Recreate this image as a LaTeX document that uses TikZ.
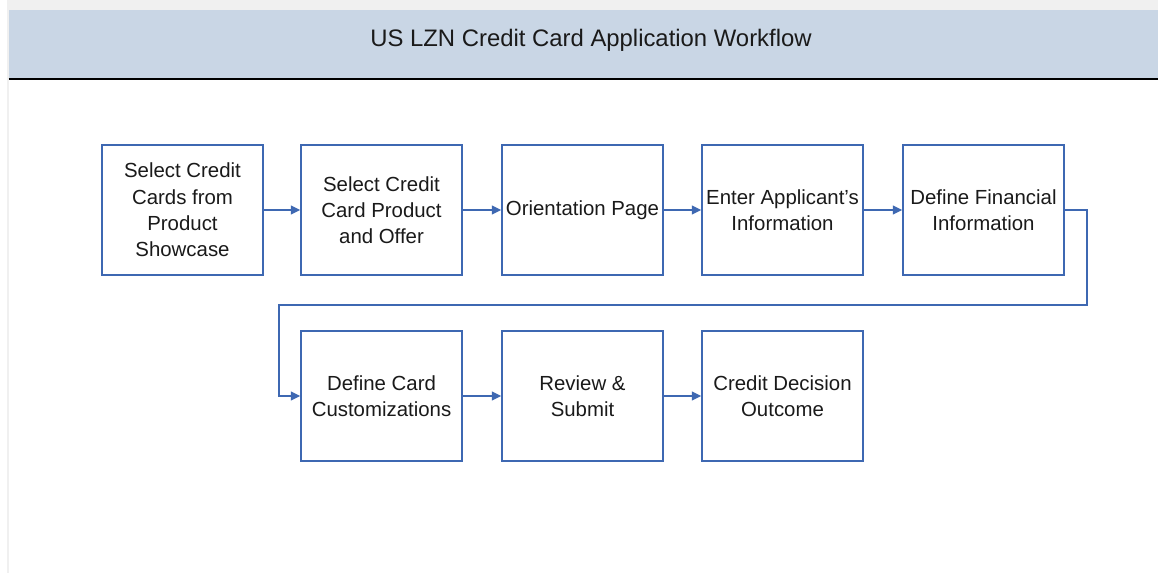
\documentclass[tikz,border=0pt]{standalone}
\usepackage{fontspec}
\setmainfont{Liberation Sans}
\usetikzlibrary{arrows.meta}
\definecolor{hdr}{RGB}{201,214,229}
\definecolor{bx}{RGB}{62,104,178}
\definecolor{frm}{RGB}{240,240,240}
\definecolor{txt}{RGB}{26,26,26}
\tikzset{
  x=0.75pt, y=-0.75pt,
  stepbox/.style={draw=bx, line width=1.1pt, minimum width=120.75pt, minimum height=97.5pt,
    inner sep=0pt, align=center, text=txt, font=\fontsize{15.3pt}{19.7pt}\selectfont},
  flow/.style={draw=bx, line width=1.1pt, -{Triangle[length=7pt,width=6.5pt]}}
}
\begin{document}
\begin{tikzpicture}
\useasboundingbox (0,0) rectangle (1158,573);
\fill[white] (0,0) rectangle (1158,573);
\fill[frm] (7,0) rectangle (1158,10);
\fill[frm] (6.5,0) rectangle (8.5,573);
\fill[hdr] (8.5,10) rectangle (1158,79);
\draw[black, line width=1.5pt] (8.5,79.5) -- (1158,79.5);
\node[text=txt, font=\fontsize{17.9pt}{20pt}\selectfont] (title) at (591,40) {US LZN Credit Card Application Workflow};

\node[stepbox] (b1) at (182.5,210) {Select Credit\\Cards from\\Product\\Showcase};
\node[stepbox] (b2) at (381.5,210) {Select Credit\\Card Product\\and Offer};
\node[stepbox] (b3) at (582.5,210) {Orientation Page};
\node[stepbox] (b4) at (782.5,210) {Enter Applicant’s\\Information};
\node[stepbox] (b5) at (983.5,210) {Define Financial\\Information};
\node[stepbox] (b6) at (381.5,396) {Define Card\\Customizations};
\node[stepbox] (b7) at (582.5,396) {Review \&\\Submit};
\node[stepbox] (b8) at (782.5,396) {Credit Decision\\Outcome};

\draw[flow] (b1) -- (b2);
\draw[flow] (b2) -- (b3);
\draw[flow] (b3) -- (b4);
\draw[flow] (b4) -- (b5);
\coordinate (r1) at (1087,210);
\coordinate (r2) at (1087,305);
\coordinate (l1) at (279,305);
\coordinate (l2) at (279,396);
\draw[flow] (b5.east) -- (r1) -- (r2) -- (l1) -- (l2) -- (b6.west);
\draw[flow] (b6) -- (b7);
\draw[flow] (b7) -- (b8);
\end{tikzpicture}
\end{document}
